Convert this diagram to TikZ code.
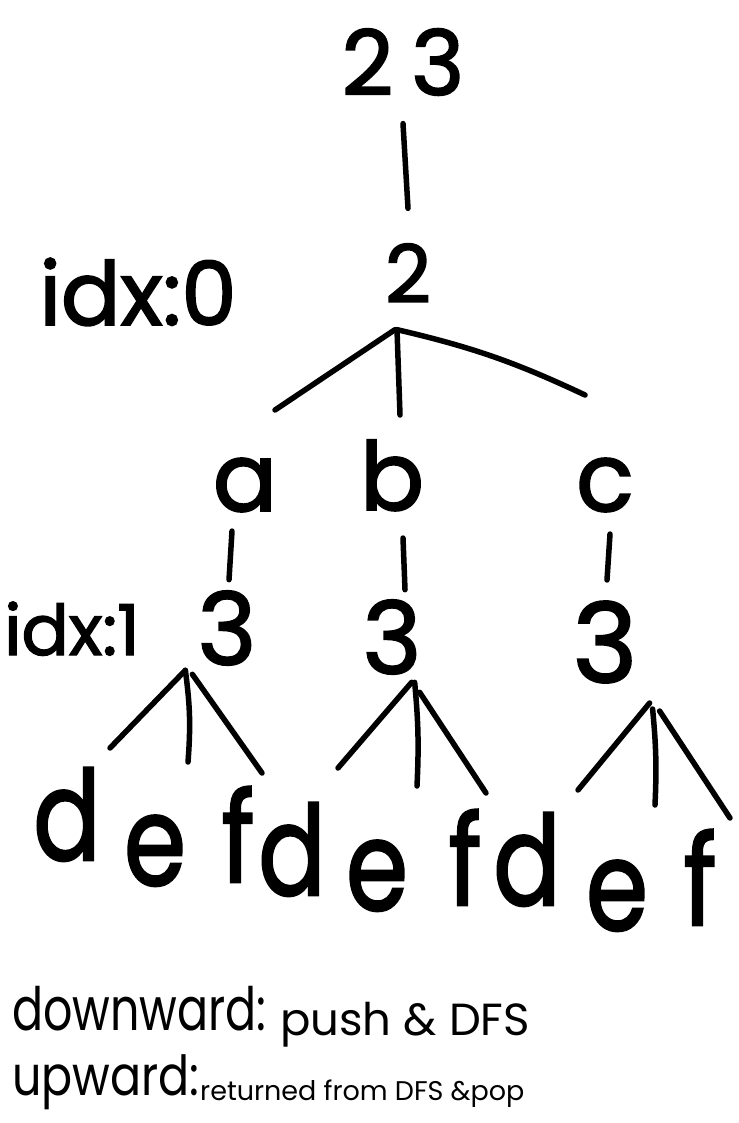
\documentclass[tikz,border=0pt]{standalone}
\usepackage{fontspec}
\setmainfont{Poppins}
\newfontfamily\handfont{Poppins}[FakeBold=2]

\tikzset{
  edge/.style={line width=5.5pt, line cap=round},
  hand/.style={inner sep=0pt, font=\fontsize{#1}{#1}\selectfont\handfont},
  note/.style={inner sep=0pt, font=\fontsize{#1}{#1}\selectfont, anchor=base west},
  leaf/.style={hand=125, xscale=0.8, anchor=base}
}

\begin{document}
\begin{tikzpicture}[x=1pt, y=-1pt]
    \useasboundingbox (0,0) rectangle (738,1123);

    % --- ROOT ---
    \node[hand=90] (top) at (403,62) {2\hspace{0.2em}3};
    \node[hand=80] (two) at (408,273) {2};
    \node[hand=88, anchor=base] (idx0) at (138,325) {idx:0};
    \draw[edge] ([yshift=-28pt]top.south) -- ([yshift=35pt]two.north);

    % --- FIRST LEVEL ---
    \coordinate (forkA) at (275,410);
    \coordinate (forkB) at (400,415);
    \coordinate (forkC) at (585,395);
    \draw[edge] ([xshift=-13pt,yshift=-27pt]two.south) -- (forkA);
    \draw[edge] ([xshift=-11pt,yshift=-27pt]two.south) -- (forkB);
    \draw[edge] ([xshift=-11pt,yshift=-27pt]two.south) to[bend left=6] (forkC);

    \node[hand=95] (a) at (245,485) {a};
    \node[hand=95, anchor=base] (b) at (392,510) {b};
    \node[hand=95] (c) at (605,485) {c};

    \node[hand=100] (threeA) at (227,628) {3};
    \node[hand=100] (threeB) at (392,637) {3};
    \node[hand=110] (threeC) at (605,642) {3};
    \node[hand=70, anchor=base] (idx1) at (72,655) {idx:1};

    \draw[edge] ([xshift=-13pt,yshift=-19pt]a.south) -- ([xshift=2pt,yshift=11pt]threeA.north);
    \draw[edge] ([xshift=11pt,yshift=-27pt]b.south) -- ([xshift=13pt,yshift=10pt]threeB.north);
    \draw[edge] ([xshift=5pt,yshift=-22pt]c.south) -- ([xshift=2pt,yshift=21pt]threeC.north);

    % --- SECOND LEVEL ---
    \coordinate (endAd) at (110,748);
    \coordinate (endAe) at (188,762);
    \coordinate (endAf) at (262,773);
    \coordinate (endBd) at (338,768);
    \coordinate (endBe) at (417,786);
    \coordinate (endBf) at (486,793);
    \coordinate (endCd) at (578,790);
    \coordinate (endCe) at (655,805);
    \coordinate (endCf) at (730,818);

    \draw[edge] ([xshift=-12pt,yshift=-5pt]threeA.south west) -- (endAd);
    \draw[edge] ([xshift=-12pt,yshift=-5pt]threeA.south west) to[bend left=6] (endAe);
    \draw[edge] ([xshift=-5pt,yshift=-9pt]threeA.south west) -- (endAf);
    \draw[edge] ([xshift=-10pt,yshift=-8pt]threeB.south east) -- (endBd);
    \draw[edge] ([xshift=-7pt,yshift=-8pt]threeB.south east) to[bend left=4] (endBe);
    \draw[edge] ([xshift=-2pt,yshift=-18pt]threeB.south east) -- (endBf);
    \draw[edge] ([xshift=12pt,yshift=-20pt]threeC.south east) -- (endCd);
    \draw[edge] ([xshift=15pt,yshift=-26pt]threeC.south east) to[bend left=4] (endCe);
    \draw[edge] ([xshift=22pt,yshift=-28pt]threeC.south east) -- (endCf);

    % Leaves
    \foreach \name/\x/\y/\t in {dA/67/860/d, eA/155/885/e, fA/238/882/f,
                                dB/292/895/d, eB/377/910/e, fB/465/905/f,
                                dC/527/905/d, eC/617/930/e, fC/700/925/f}
        \node[leaf] (\name) at (\x,\y) {\t};

    % --- NOTES (BOTTOM) ---
    \node[note=46, yscale=1.3] (down) at (12,1030) {downward:};
    \node[note=45] (push) at (280,1035) {push \& DFS};
    \node[note=46, yscale=1.2] (up) at (12,1095) {upward:};
    \node[note=27] (ret) at (200,1100) {returned from DFS \&pop};
\end{tikzpicture}
\end{document}
